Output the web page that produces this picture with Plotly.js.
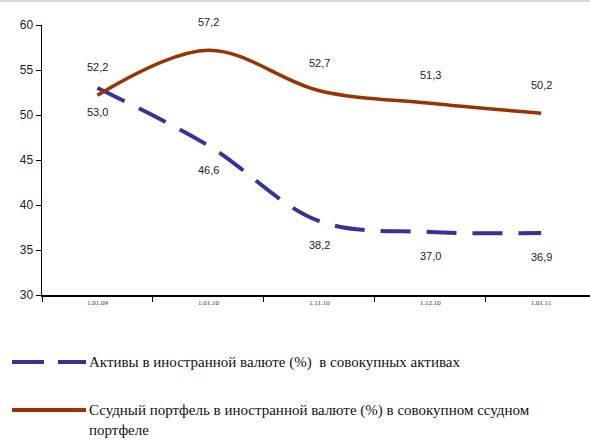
<!DOCTYPE html>
<html><head><meta charset="utf-8">
<script src="https://cdn.plot.ly/plotly-3.0.1.min.js"></script>
<style>html,body{margin:0;padding:0;background:#fff}#c{width:590px;height:441px}</style>
</head><body><div id="c"></div>
<script>
var categories = ["1.01.09","1.01.10","1.11.10","1.12.10","1.01.11"];
var assetsFx = [53.0, 46.6, 38.2, 37.0, 36.9];
var loansFx = [52.2, 57.2, 52.7, 51.3, 50.2];
var assetsName = "Активы в иностранной валюте (%)  в совокупных активах";
var loansName = "Ссудный портфель в иностранной валюте (%) в совокупном ссудном<br>портфеле";
var yTicks = [30,35,40,45,50,55,60];

var blue = "#333399", brown = "#993300";
var serif = "'Liberation Serif', 'Times New Roman', serif";
var sans = "Arial";

var traces = [
  {x: categories, y: assetsFx, type: "scatter", mode: "lines", name: assetsName,
   line: {color: blue, width: 4, dash: "30px,16px", shape: "spline", smoothing: 1}, showlegend: false},
  {x: categories, y: loansFx, type: "scatter", mode: "lines", name: loansName,
   line: {color: brown, width: 3.5, shape: "spline", smoothing: 1}, showlegend: false}
];

function fmt(v){ return v.toFixed(1).replace(".", ","); }
var ann = [];
categories.forEach(function(c,i){
  ann.push({x: c, y: loansFx[i], text: fmt(loansFx[i]), showarrow: false, yshift: 28,
    font: {family: sans, size: 11, color: "#222"}});
  ann.push({x: c, y: assetsFx[i], text: fmt(assetsFx[i]), showarrow: false, yshift: -24,
    font: {family: sans, size: 11, color: "#222"}});
});
var W = 548, H = 270;
function px2x(px){ return (px-42)/W; }
function py2y(py){ return (295-py)/H; }
ann.push({xref:"paper", yref:"paper", x: px2x(87), y: py2y(362), xanchor:"left", yanchor:"middle",
  text: assetsName, showarrow:false, align:"left",
  font:{family: serif, size:15, color:"#111"}});
ann.push({xref:"paper", yref:"paper", x: px2x(87), y: py2y(400), xanchor:"left", yanchor:"top",
  text: loansName, showarrow:false, align:"left",
  font:{family: serif, size:15, color:"#111"}});

var shapes = [
  {type:"line", xref:"paper", yref:"paper", x0:px2x(12), x1:px2x(44), y0:py2y(362), y1:py2y(362),
   line:{color:blue, width:4}},
  {type:"line", xref:"paper", yref:"paper", x0:px2x(58), x1:px2x(86), y0:py2y(362), y1:py2y(362),
   line:{color:blue, width:4}},
  {type:"line", xref:"paper", yref:"paper", x0:px2x(12), x1:px2x(86), y0:py2y(410), y1:py2y(410),
   line:{color:brown, width:4}},
  {type:"line", xref:"paper", yref:"paper", x0:-0.08, x1:1.1, y0:py2y(1), y1:py2y(1),
   line:{color:"#d8d8d8", width:2}}
];

var layout = {
  width: 590, height: 441,
  margin: {l: 42, r: 0, t: 25, b: 146},
  paper_bgcolor: "#fff", plot_bgcolor: "#fff",
  showlegend: false,
  xaxis: {type: "category", range: [-0.5, 4.44], showgrid: false, zeroline: false,
    showline: true, linecolor: "#000", linewidth: 1.5, ticks: "outside", tickson: "boundaries",
    ticklen: 5, tickcolor: "#000",
    tickfont: {family: serif, size: 7, color: "#333"}},
  yaxis: {range: [30, 60], tickvals: yTicks, showgrid: false, zeroline: false,
    showline: true, linecolor: "#000", linewidth: 1.5, ticks: "outside", ticklen: 5, tickcolor: "#000",
    tickfont: {family: sans, size: 12, color: "#222"}},
  annotations: ann,
  shapes: shapes
};
Plotly.newPlot("c", traces, layout, {displayModeBar: false, staticPlot: true});
</script></body></html>
